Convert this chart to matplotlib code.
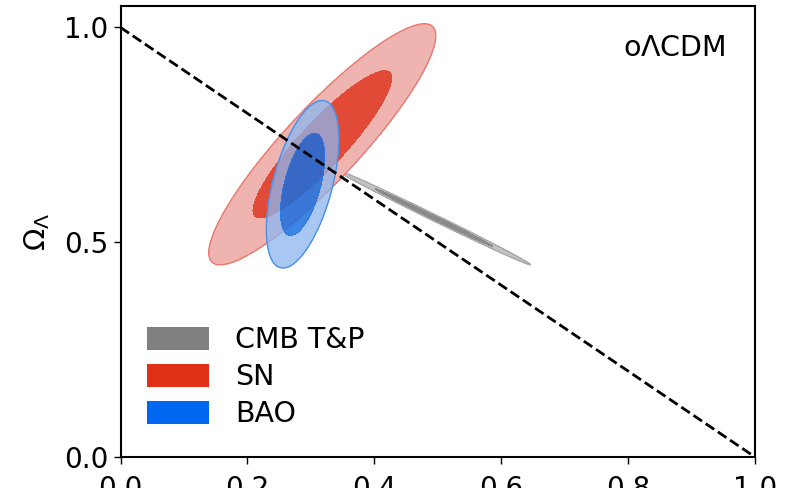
import numpy as np
import matplotlib
matplotlib.use("Agg")
import matplotlib.pyplot as plt
from matplotlib.patches import Patch

# Gaussian approximations of the posteriors in the (Omega_m, Omega_Lambda) plane
probe_names = ["CMB T&P", "SN", "BAO"]
means_om = [0.494, 0.318, 0.287]
means_ol = [0.5575, 0.728, 0.635]
sigma_om = [0.0613, 0.072, 0.023]
sigma_ol = [0.0443, 0.113, 0.0785]
rho = [-0.9972, 0.90, 0.54]

inner_colors = ["#8a8a8a", "#e24a38", "#1a6ee0"]
outer_colors = ["#c4c4c4", "#f0b4b0", "#8bb6f0"]
edge_colors = ["#a8a8a8", "#e87a70", "#4a90e8"]
legend_colors = ["#808080", "#e03018", "#0068f0"]
outer_alpha = [1.0, 1.0, 0.75]
inner_alpha = [1.0, 1.0, 0.85]

# Delta chi^2 for 68% and 95% in two parameters
levels_dchi2 = [0.0, 2.30, 6.17]

xlim = (0.0, 1.0)
ylim = (0.0, 1.05)
xticks = [0.0, 0.2, 0.4, 0.6, 0.8, 1.0]
yticks = [0.0, 0.5, 1.0]

plt.rcParams["font.family"] = ["DejaVu Sans"]
plt.rcParams["mathtext.fontset"] = "dejavusans"

fig = plt.figure(figsize=(7.87, 4.88), dpi=100)
ax = fig.add_axes([120.5 / 787, 31 / 488, 634.5 / 787, 451 / 488])

om = np.linspace(0, 1, 1200)
ol = np.linspace(0, 1.05, 1200)
OM, OL = np.meshgrid(om, ol)

for i in range(len(probe_names)):
    dx = (OM - means_om[i]) / sigma_om[i]
    dy = (OL - means_ol[i]) / sigma_ol[i]
    chi2 = (dx ** 2 - 2 * rho[i] * dx * dy + dy ** 2) / (1 - rho[i] ** 2)
    ax.contourf(OM, OL, chi2, levels=[levels_dchi2[1], levels_dchi2[2]],
                colors=[outer_colors[i]], alpha=outer_alpha[i], zorder=2 + i)
    ax.contourf(OM, OL, chi2, levels=[levels_dchi2[0], levels_dchi2[1]],
                colors=[inner_colors[i]], alpha=inner_alpha[i], zorder=2 + i)
    ax.contour(OM, OL, chi2, levels=[levels_dchi2[2]],
               colors=[edge_colors[i]], linewidths=1.0, zorder=2 + i)

# flat universe
flat_om = [0.0, 1.0]
flat_ol = [1.0, 0.0]
ax.plot(flat_om, flat_ol, ls="--", color="black", lw=2.0, zorder=10)

ax.set_xlim(*xlim)
ax.set_ylim(*ylim)
ax.set_xticks(xticks)
ax.set_yticks(yticks)
ax.tick_params(labelsize=20, direction="out", length=5, width=1)
ax.tick_params(axis="x", pad=8)
for s in ax.spines.values():
    s.set_linewidth(1.5)
ax.set_ylabel(r"$\Omega_\Lambda$", fontsize=21, labelpad=9)

ax.text(0.953, 0.907, r"o$\Lambda$CDM", transform=ax.transAxes,
        ha="right", va="center", fontsize=20.5)

handles = [Patch(facecolor=c, edgecolor="none") for c in legend_colors]
ax.legend(handles, probe_names, loc="lower left", frameon=False,
          fontsize=20.5, handlelength=2.2, handleheight=0.85,
          handletextpad=0.9, labelspacing=0.31,
          bbox_to_anchor=(0.01, 0.02), borderaxespad=0.3)

fig.savefig("out.png", dpi=100)
